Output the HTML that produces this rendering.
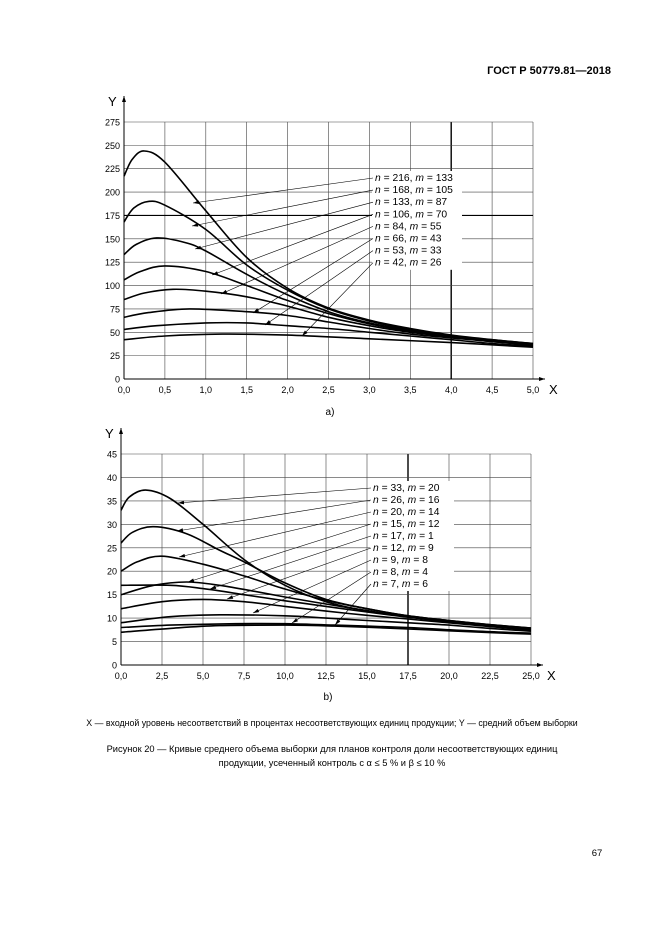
<!DOCTYPE html>
<html><head><meta charset="utf-8"><style>
body{margin:0;background:#fff;}
svg{display:block;font-family:"Liberation Sans",sans-serif;}
</style></head><body>
<svg id="s" width="661" height="935" viewBox="0 0 661 935" xmlns="http://www.w3.org/2000/svg">
<rect width="661" height="935" fill="#fff"/>
<text x="611" y="74" font-size="11" font-weight="bold" text-anchor="end">ГОСТ Р 50779.81—2018</text>
<text x="330" y="415" font-size="10" text-anchor="middle">a)</text>
<text x="328" y="700" font-size="10" text-anchor="middle">b)</text>
<text x="332" y="726" font-size="8.8" text-anchor="middle">X — входной уровень несоответствий в процентах несоответствующих единиц продукции; Y — средний объем выборки</text>
<text x="332" y="752" font-size="9.3" text-anchor="middle">Рисунок 20 — Кривые среднего объема выборки для планов контроля доли несоответствующих единиц</text>
<text x="332" y="766" font-size="9.3" text-anchor="middle">продукции, усеченный контроль с α ≤ 5 % и β ≤ 10 %</text>
<text x="597" y="856" font-size="9.5" text-anchor="middle">67</text>
<g id="g"></g>
</svg>
<script>
const NS="http://www.w3.org/2000/svg",G=document.getElementById('g');
function el(t,a,txt){const e=document.createElementNS(NS,t);for(const k in a)e.setAttribute(k,a[k]);if(txt!==undefined)e.textContent=txt;G.appendChild(e);return e;}
function cr(p){let d="M"+p[0][0].toFixed(1)+","+p[0][1].toFixed(1);for(let i=0;i<p.length-1;i++){const p0=p[i-1]||p[i],p1=p[i],p2=p[i+1],p3=p[i+2]||p2;
d+=" C"+(p1[0]+(p2[0]-p0[0])/6).toFixed(1)+","+(p1[1]+(p2[1]-p0[1])/6).toFixed(1)+" "+(p2[0]-(p3[0]-p1[0])/6).toFixed(1)+","+(p2[1]-(p3[1]-p1[1])/6).toFixed(1)+" "+p2[0].toFixed(1)+","+p2[1].toFixed(1);}return d;}
function chart(c){
 const X=v=>c.x0+(c.x1-c.x0)*v/c.xmax, Y=v=>c.y0-(c.y0-c.y1)*v/c.ymax;
 for(let i=0;i<=c.nx;i++){const v=c.xmax*i/c.nx,x=X(v);
  el('line',{x1:x,y1:c.y1,x2:x,y2:c.y0,stroke:i==c.thx?'#000':'#444','stroke-width':i==c.thx?1.4:0.6});
  el('text',{x:x,y:c.y0+14,'font-size':9,'text-anchor':'middle'},v.toFixed(1).replace('.',','));}
 for(let j=0;j<=c.ny;j++){const v=c.ymax*j/c.ny,y=Y(v);
  el('line',{x1:c.x0,y1:y,x2:c.x1,y2:y,stroke:j==c.thy?'#000':'#444','stroke-width':j==c.thy?1.2:0.6});
  el('text',{x:c.x0-4,y:y+3.5,'font-size':9,'text-anchor':'end'},String(v));}
 el('line',{x1:c.x0,y1:c.y0,x2:c.x0,y2:c.ytop,stroke:'#000','stroke-width':1});
 el('line',{x1:c.x0,y1:c.y0,x2:c.x1+12,y2:c.y0,stroke:'#000','stroke-width':1});
 el('path',{d:`M${c.x0-2},${c.ytop+6} L${c.x0},${c.ytop} L${c.x0+2},${c.ytop+6}Z`});
 el('path',{d:`M${c.x1+6},${c.y0-2} L${c.x1+12},${c.y0} L${c.x1+6},${c.y0+2}Z`});
 el('text',{x:c.x0-16,y:c.ytop+10,'font-size':13},'Y');
 el('text',{x:c.x1+16,y:c.y0+15,'font-size':13},'X');
 c.curves.forEach(p=>el('path',{d:cr(p.map(q=>[X(q[0]),Y(q[1])])),fill:'none',stroke:'#000','stroke-width':1.6}));
 el('rect',{x:c.lx-3,y:c.ly0-10,width:c.lw,height:c.labels.length*c.ls+2,fill:'#fff'});
 c.labels.forEach((l,i)=>{const y=c.ly0+i*c.ls;const t=c.tips[i];
  el('line',{x1:c.lx-2,y1:y-3,x2:t[0],y2:t[1],stroke:'#000','stroke-width':0.6});
  const a=Math.atan2(y-3-t[1],c.lx-2-t[0]),L=6,w=1.8;
  const bx=t[0]+L*Math.cos(a),by=t[1]+L*Math.sin(a);
  el('path',{d:`M${t[0]},${t[1]} L${bx-w*Math.sin(a)},${by+w*Math.cos(a)} L${bx+w*Math.sin(a)},${by-w*Math.cos(a)}Z`});
  const tx=el('text',{x:c.lx,y:y,'font-size':10.3});
  tx.innerHTML=`<tspan font-style="italic">n</tspan> = ${l[0]}, <tspan font-style="italic">m</tspan> = ${l[1]}`;
 });
}
chart({x0:124,x1:533,y0:379,y1:122,ytop:96,xmax:5,ymax:275,nx:10,ny:11,thx:8,thy:7,
 lx:375,ly0:181,ls:12.1,lw:90,
 labels:[[216,133],[168,105],[133,87],[106,70],[84,55],[66,43],[53,33],[42,26]],
 tips:[[193,203],[192,226],[195,249],[212,275],[221,294],[253,313],[265,325],[302,336]],
 curves:[
 [[0,217],[0.1,235],[0.25,244],[0.5,232],[1,180],[1.5,130],[2,97],[2.5,76],[3,63],[3.5,54],[4,47],[4.5,42],[5,38]],
 [[0,168],[0.12,183],[0.3,190],[0.5,186],[1,160],[1.5,122],[2,95],[2.5,75],[3,62],[3.5,53],[4,46],[4.5,42],[5,38]],
 [[0,133],[0.15,144],[0.4,151],[0.75,146],[1,137],[1.5,112],[2,90],[2.5,72],[3,60],[3.5,52],[4,46],[4.5,41],[5,37]],
 [[0,106],[0.2,115],[0.5,121],[1,115],[1.5,100],[2,84],[2.5,70],[3,59],[3.5,51],[4,45],[4.5,41],[5,37]],
 [[0,85],[0.25,92],[0.6,96],[1,94],[1.5,88],[2,78],[2.5,66],[3,57],[3.5,50],[4,45],[4.5,40],[5,37]],
 [[0,66],[0.3,71],[0.8,75],[1.5,72],[2,68],[2.5,61],[3,54],[3.5,48],[4,44],[4.5,40],[5,36]],
 [[0,53],[0.4,57],[1,60],[1.5,60],[2,57],[2.5,54],[3,50],[3.5,46],[4,42],[4.5,38],[5,35]],
 [[0,42],[0.5,46],[1.2,48],[2,47],[3,43],[4,39],[5,34]]
 ]});
chart({x0:121,x1:531,y0:665,y1:454,ytop:428,xmax:25,ymax:45,nx:10,ny:9,thx:7,thy:-1,
 lx:373,ly0:491,ls:12,lw:84,
 labels:[[33,20],[26,16],[20,14],[15,12],[17,1],[12,9],[9,8],[8,4],[7,6]],
 tips:[[178,503],[177,531],[179,557],[188,582],[210,589],[227,599],[253,613],[292,623],[335,625]],
 curves:[
 [[0,33],[0.5,35.8],[1.5,37.3],[3,35.5],[5,30],[7.5,22.5],[10,17],[12.5,13.5],[15,11.5],[17.5,10.3],[20,9.3],[22.5,8.5],[25,7.8]],
 [[0,26],[0.7,28.3],[2,29.5],[4,28],[6,24.5],[7.5,22],[10,17.5],[12.5,14],[15,12],[17.5,10.5],[20,9.5],[22.5,8.6],[25,7.9]],
 [[0,20],[1,22],[2.5,23.2],[5,21.5],[7.5,19],[10,16.2],[12.5,13.8],[15,12],[17.5,10.5],[20,9.5],[22.5,8.6],[25,7.9]],
 [[0,15],[2,17],[4,17.7],[6,17],[8,15.8],[10,14.5],[12.5,13],[15,11.6],[17.5,10.3],[20,9.3],[22.5,8.5],[25,7.7]],
 [[0,17],[3,17],[5,16.3],[7.5,15],[10,13.7],[12.5,12.5],[15,11.3],[17.5,10.2],[20,9.2],[22.5,8.4],[25,7.6]],
 [[0,12],[2.5,13.5],[5,14],[7.5,13.5],[10,12.5],[12.5,11.5],[15,10.6],[17.5,9.8],[20,9],[22.5,8.2],[25,7.4]],
 [[0,9],[3,10.3],[6,10.7],[10,10.5],[12.5,10],[15,9.5],[17.5,9],[20,8.5],[22.5,7.8],[25,7.2]],
 [[0,8],[3,8.5],[7,8.8],[10,8.8],[13,8.5],[17.5,8],[20,7.5],[22.5,7.1],[25,6.8]],
 [[0,7],[3,7.8],[6,8.4],[10,8.5],[13,8.3],[17.5,7.7],[20,7.3],[22.5,6.9],[25,6.6]]
 ]});
</script>
</body></html>
